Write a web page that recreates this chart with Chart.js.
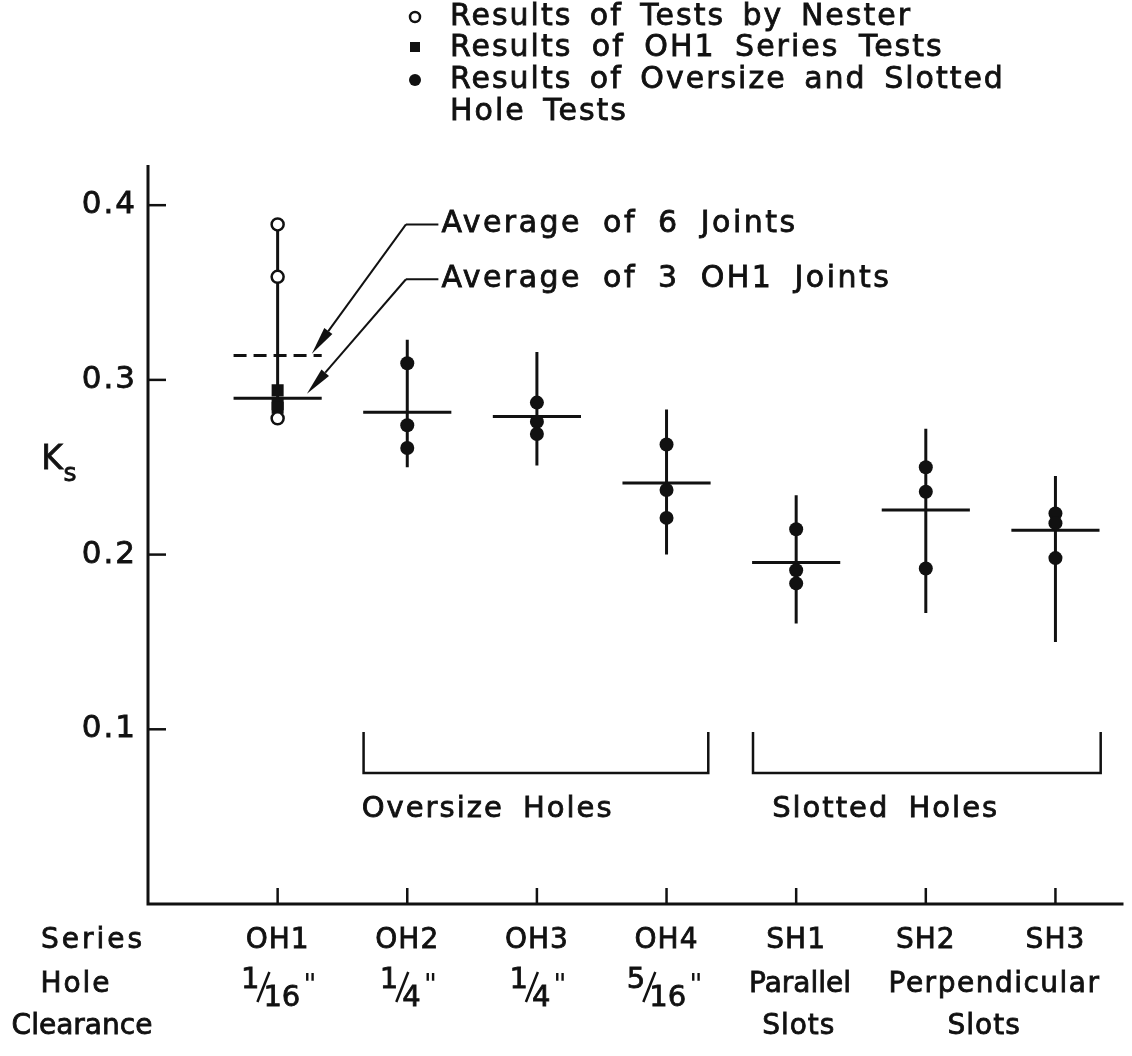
<!DOCTYPE html>
<html>
<head>
<meta charset="utf-8">
<script src="https://cdn.jsdelivr.net/npm/chart.js@4"></script>
<style>
  body { margin: 0; background: #fff; }
  canvas { display: block; }
</style>
</head>
<body>
<canvas id="myChart" width="1132" height="1056"></canvas>
<script>
var ctx = document.getElementById('myChart').getContext('2d');

// series along the x axis (x = 1..7)
var categories = ['OH1', 'OH2', 'OH3', 'OH4', 'SH1', 'SH2', 'SH3'];

// Ks values
var nester = [0.389, 0.359, 0.278];          // open circles, OH1 only
var oh1Tests = [0.294, 0.286, 0.284];        // squares, OH1 only
var oversizeSlotted = [                       // filled dots, OH2..SH3
  [0.3095, 0.274, 0.261],
  [0.287, 0.276, 0.269],
  [0.263, 0.237, 0.221],
  [0.2145, 0.191, 0.1835],
  [0.250, 0.236, 0.192],
  [0.2235, 0.218, 0.198]
];
var rangeLow  = [0.278, 0.250, 0.251, 0.200, 0.1605, 0.1665, 0.150];
var rangeHigh = [0.389, 0.323, 0.316, 0.283, 0.234, 0.272, 0.245];
var average   = [0.2895, 0.2815, 0.279, 0.241, 0.1955, 0.2255, 0.214];
var averageSix = 0.314;

var yTicks = [0.1, 0.2, 0.3, 0.4];
var yTickLabels = ['0.1', '0.2', '0.3', '0.4'];
var clearance = [['1', '16'], ['1', '4'], ['1', '4'], ['5', '16']];

var FONT = '"DejaVu Sans", sans-serif';
var INK = '#111';
var HALF = 0.34; // half length of average bars, in x units

// build the line data (null breaks the line between groups)
var rangeData = [];
var avgData = [];
categories.forEach(function(c, i) {
  rangeData.push({x: i + 1, y: rangeLow[i]}, {x: i + 1, y: rangeHigh[i]}, {x: i + 1, y: null});
  avgData.push({x: i + 1 - HALF, y: average[i]}, {x: i + 1 + HALF, y: average[i]}, {x: i + 1, y: null});
});
var sixData = [{x: 1 - HALF, y: averageSix}, {x: 1 + HALF, y: averageSix}];
var nesterData = nester.map(function(v) { return {x: 1, y: v}; });
var oh1Data = oh1Tests.map(function(v) { return {x: 1, y: v}; });
var dotData = [];
oversizeSlotted.forEach(function(arr, i) {
  arr.forEach(function(v) { dotData.push({x: i + 2, y: v}); });
});

// text helper: size, align, letter spacing, word spacing
function txt(c, s, x, y, size, align, ls, ws) {
  c.font = size + 'px ' + FONT;
  c.textAlign = align || 'center';
  c.textBaseline = 'middle';
  c.letterSpacing = (ls || 0) + 'px';
  c.wordSpacing = (ws || 0) + 'px';
  c.lineWidth = 0.8;
  c.fillText(s, x, y);
  c.strokeText(s, x, y);
  c.letterSpacing = '0px';
  c.wordSpacing = '0px';
}

function arrow(c, x1, y1, x2, y2) {
  var a = Math.atan2(y2 - y1, x2 - x1);
  var len = 28, w = 5;
  c.beginPath();
  c.moveTo(x1, y1);
  c.lineTo(x2 - Math.cos(a) * len, y2 - Math.sin(a) * len);
  c.stroke();
  c.beginPath();
  c.moveTo(x2, y2);
  c.lineTo(x2 - Math.cos(a) * len - Math.sin(a) * w, y2 - Math.sin(a) * len + Math.cos(a) * w);
  c.lineTo(x2 - Math.cos(a) * len + Math.sin(a) * w, y2 - Math.sin(a) * len - Math.cos(a) * w);
  c.closePath();
  c.fill();
}

function fraction(c, n, d, cx, y) {
  // slanted fraction followed by inch mark
  c.font = '29px ' + FONT;
  var wn = c.measureText(n).width, wd = c.measureText(d).width;
  var total = wn + 6 + wd + 12;
  var x = cx - total / 2;
  c.textBaseline = 'alphabetic';
  c.textAlign = 'left';
  c.lineWidth = 0.8;
  c.fillText(n, x, y - 8);
  c.strokeText(n, x, y - 8);
  c.fillText(d, x + wn + 4, y + 10);
  c.strokeText(d, x + wn + 4, y + 10);
  c.fillText('"', x + wn + 7 + wd, y - 2);
  c.lineWidth = 2.5;
  c.beginPath();
  c.moveTo(x + wn - 2, y + 6);
  c.lineTo(x + wn + 10, y - 24);
  c.stroke();
}

var decorations = {
  id: 'decorations',
  afterDraw: function(chart) {
    var c = chart.ctx;
    var xs = chart.scales.x, ys = chart.scales.y;
    var area = chart.chartArea;
    var X = function(v) { return xs.getPixelForValue(v); };
    var Y = function(v) { return ys.getPixelForValue(v); };
    c.save();
    c.fillStyle = INK;
    c.strokeStyle = INK;

    // axes
    c.lineWidth = 3;
    c.beginPath();
    c.moveTo(area.left, area.top);
    c.lineTo(area.left, area.bottom);
    c.lineTo(area.right, area.bottom);
    c.stroke();
    yTicks.forEach(function(t, i) {
      c.lineWidth = 2.5;
      c.beginPath();
      c.moveTo(area.left, Y(t));
      c.lineTo(area.left + 18, Y(t));
      c.stroke();
      txt(c, yTickLabels[i], area.left - 11, Y(t), 31, 'right', 2);
    });
    categories.forEach(function(cat, i) {
      c.lineWidth = 2.5;
      c.beginPath();
      c.moveTo(X(i + 1), area.bottom);
      c.lineTo(X(i + 1), area.bottom - 16);
      c.stroke();
      txt(c, cat, X(i + 1), area.bottom + 37, 28, 'center', 1);
    });

    // axis titles and row labels
    txt(c, 'K', 52, 460, 33);
    txt(c, 's', 70, 474, 25);
    txt(c, 'Series', 93, area.bottom + 37, 28, 'center', 3);
    txt(c, 'Hole', 76, area.bottom + 81, 28, 'center', 2);
    txt(c, 'Clearance', 82, area.bottom + 123, 28, 'center', 0);
    clearance.forEach(function(f, i) {
      fraction(c, f[0], f[1], X(i + 1) + (i === 3 ? -3 : 0), area.bottom + 92);
    });
    txt(c, 'Parallel', X(5.03), area.bottom + 81, 28, 'center', 0);
    txt(c, 'Slots', X(5.02), area.bottom + 123, 28, 'center', 1);
    txt(c, 'Perpendicular', X(6.53), area.bottom + 81, 28, 'center', 1.5);
    txt(c, 'Slots', X(6.45), area.bottom + 123, 28, 'center', 1);

    // group brackets
    [[1.663, 4.322, 'Oversize Holes', 2.62], [4.667, 7.349, 'Slotted Holes', 5.69]].forEach(function(b) {
      c.lineWidth = 2.5;
      c.beginPath();
      c.moveTo(X(b[0]), Y(0.0984));
      c.lineTo(X(b[0]), Y(0.075));
      c.lineTo(X(b[1]), Y(0.075));
      c.lineTo(X(b[1]), Y(0.0984));
      c.stroke();
      txt(c, b[2], X(b[3]), Y(0.054), 29, 'center', 2, 8);
    });

    // leader arrows
    [
      {text: 'Average of 6 Joints', tip: [1.264, 0.315], knee: [1.99, 0.389], end: [2.24, 0.389]},
      {text: 'Average of 3 OH1 Joints', tip: [1.226, 0.292], knee: [1.99, 0.3576], end: [2.24, 0.3576]}
    ].forEach(function(l) {
      c.lineWidth = 2;
      c.beginPath();
      c.moveTo(X(l.end[0]), Y(l.end[1]));
      c.lineTo(X(l.knee[0]), Y(l.knee[1]));
      c.stroke();
      arrow(c, X(l.knee[0]), Y(l.knee[1]), X(l.tip[0]), Y(l.tip[1]));
      txt(c, l.text, X(l.end[0]) + 3, Y(l.end[1]), 30, 'left', 2.5, 9);
    });

    // legend
    c.lineWidth = 2.5;
    c.beginPath();
    c.arc(415, 17, 5, 0, Math.PI * 2);
    c.stroke();
    c.fillRect(410, 42, 10, 10);
    c.beginPath();
    c.arc(415, 80, 6, 0, Math.PI * 2);
    c.fill();
    txt(c, 'Results of Tests by Nester', 450, 17, 30, 'left', 2, 6);
    txt(c, 'Results of OH1 Series Tests', 450, 48, 30, 'left', 2, 8);
    txt(c, 'Results of Oversize and Slotted', 450, 80, 30, 'left', 2, 6);
    txt(c, 'Hole Tests', 450, 112, 30, 'left', 2, 6);
    c.restore();
  }
};

var chart = new Chart(ctx, {
  type: 'scatter',
  data: {
    datasets: [{
      label: 'Results of Tests by Nester',
      data: nesterData,
      pointRadius: 6,
      pointBorderWidth: 2.5,
      pointBackgroundColor: '#fff',
      pointBorderColor: INK,
      order: 1
    }, {
      label: 'Results of OH1 Series Tests',
      data: oh1Data,
      pointStyle: 'rect',
      pointRadius: 8.5,
      pointBorderWidth: 0,
      pointBackgroundColor: INK,
      order: 1
    }, {
      label: 'Results of Oversize and Slotted Hole Tests',
      data: dotData,
      pointRadius: 7,
      pointBorderWidth: 0,
      pointBackgroundColor: INK,
      order: 1
    }, {
      label: 'range',
      data: rangeData,
      showLine: true,
      borderColor: INK,
      borderWidth: 3,
      pointRadius: 0,
      order: 2
    }, {
      label: 'average',
      data: avgData,
      showLine: true,
      borderColor: INK,
      borderWidth: 3,
      pointRadius: 0,
      order: 2
    }, {
      label: 'average of 6',
      data: sixData,
      showLine: true,
      borderColor: INK,
      borderWidth: 3,
      borderDash: [13, 7],
      pointRadius: 0,
      order: 2
    }]
  },
  options: {
    responsive: false,
    animation: false,
    layout: { padding: { left: 148, right: 2, top: 165, bottom: 152 } },
    scales: {
      x: { type: 'linear', min: 0, max: 7.525, display: false },
      y: { type: 'linear', min: 0, max: 0.423, display: false }
    },
    plugins: {
      legend: { display: false },
      tooltip: { enabled: false }
    }
  },
  plugins: [decorations]
});
</script>
</body>
</html>
